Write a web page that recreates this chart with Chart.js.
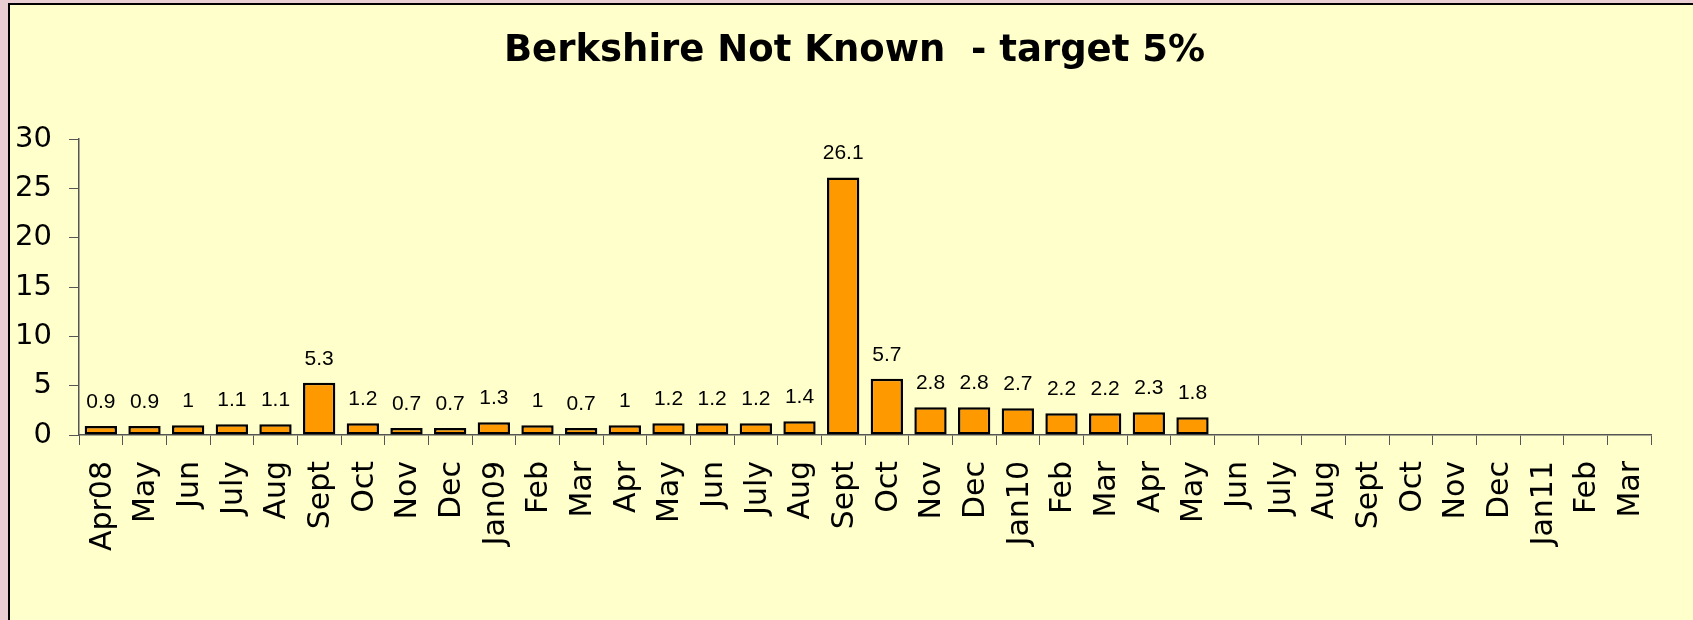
<!DOCTYPE html>
<html>
<head>
<meta charset="utf-8">
<title>Berkshire Not Known</title>
<script src="https://cdn.jsdelivr.net/npm/chart.js@4.4.1/dist/chart.umd.min.js"></script>
<style>
    body { margin: 0; background: #e9cfd4; overflow: hidden; }
    #frame {
        position: absolute; left: 8px; top: 3px; right: 0; bottom: 0;
        border-left: 2px solid #000; border-top: 2px solid #000;
        background: #ffffcc;
    }
    #box { position: relative; width: 1683px; height: 615px; }
</style>
</head>
<body>
<div id="frame"><div id="box"><canvas id="notKnownChart"></canvas></div></div>
<script>
    // Місяці (квітень 2008 - березень 2011)
    const months = ['Apr08', 'May', 'Jun', 'July', 'Aug', 'Sept', 'Oct', 'Nov', 'Dec', 'Jan09', 'Feb', 'Mar',
        'Apr', 'May', 'Jun', 'July', 'Aug', 'Sept', 'Oct', 'Nov', 'Dec', 'Jan10', 'Feb', 'Mar',
        'Apr', 'May', 'Jun', 'July', 'Aug', 'Sept', 'Oct', 'Nov', 'Dec', 'Jan11', 'Feb', 'Mar'];
    // Значення у % (після травня 2010 даних немає)
    const notKnownPct = [0.9, 0.9, 1, 1.1, 1.1, 5.3, 1.2, 0.7, 0.7, 1.3, 1, 0.7,
        1, 1.2, 1.2, 1.2, 1.4, 26.1, 5.7, 2.8, 2.8, 2.7, 2.2, 2.2,
        2.3, 1.8, null, null, null, null, null, null, null, null, null, null];
    const yTicks = [0, 5, 10, 15, 20, 25, 30];
    const chartTitle = 'Berkshire Not Known  - target 5%';

    const axisColor = '#555';

    // Заголовок (малюємо самі, щоб відцентрувати як в оригіналі)
    const titlePlugin = {
        id: 'titlePlugin',
        afterDraw(chart) {
            const ctx = chart.ctx;
            ctx.save();
            ctx.font = 'bold 37px "DejaVu Sans", Verdana, sans-serif';
            ctx.fillStyle = '#000';
            ctx.textAlign = 'center';
            ctx.textBaseline = 'alphabetic';
            ctx.fillText(chartTitle, chart.width / 2 + 3, 56);
            ctx.restore();
        }
    };

    // Підписи значень над стовпчиками
    const valueLabels = {
        id: 'valueLabels',
        afterDatasetsDraw(chart) {
            const ctx = chart.ctx;
            const meta = chart.getDatasetMeta(0);
            ctx.save();
            ctx.font = '21px "Liberation Sans", Arial, sans-serif';
            ctx.fillStyle = '#000';
            ctx.textAlign = 'center';
            ctx.textBaseline = 'alphabetic';
            meta.data.forEach((bar, i) => {
                const v = notKnownPct[i];
                if (v === null) return;
                ctx.fillText(String(v), bar.x, bar.y - 18);
            });
            ctx.restore();
        }
    };

    const ctx = document.getElementById('notKnownChart').getContext('2d');
    new Chart(ctx, {
        type: 'bar',
        data: {
            labels: months,
            datasets: [{
                label: 'Not Known',
                data: notKnownPct,
                backgroundColor: '#ff9900',
                borderColor: '#000',
                borderWidth: 2.5,
                borderSkipped: false,
                barPercentage: 0.74,
                categoryPercentage: 1
            }]
        },
        options: {
            responsive: true,
            maintainAspectRatio: false,
            animation: false,
            layout: { padding: { left: 0, right: 42, top: 134, bottom: 0 } },
            plugins: {
                legend: { display: false },
                tooltip: { enabled: false },
                title: { display: false }
            },
            scales: {
                x: {
                    offset: true,
                    grid: { display: true, drawOnChartArea: false, drawTicks: true, tickLength: 10, color: axisColor, offset: true },
                    border: { display: true, color: axisColor, width: 1.5 },
                    ticks: {
                        autoSkip: false,
                        minRotation: 90,
                        maxRotation: 90,
                        padding: 16,
                        labelOffset: 2,
                        color: '#000',
                        font: { family: '"DejaVu Sans", Verdana, sans-serif', size: 30 }
                    },
                    afterFit(scale) { scale.height = 185; }
                },
                y: {
                    min: 0,
                    max: 30,
                    afterBuildTicks(scale) { scale.ticks = yTicks.map(v => ({ value: v })); },
                    grid: { display: true, drawOnChartArea: false, drawTicks: true, tickLength: 10, color: axisColor },
                    border: { display: true, color: axisColor, width: 1.5 },
                    ticks: {
                        padding: 17,
                        color: '#000',
                        font: { family: '"DejaVu Sans", Verdana, sans-serif', size: 29 }
                    },
                    afterFit(scale) { scale.width = 69; }
                }
            }
        },
        plugins: [valueLabels, titlePlugin]
    });
</script>
</body>
</html>
